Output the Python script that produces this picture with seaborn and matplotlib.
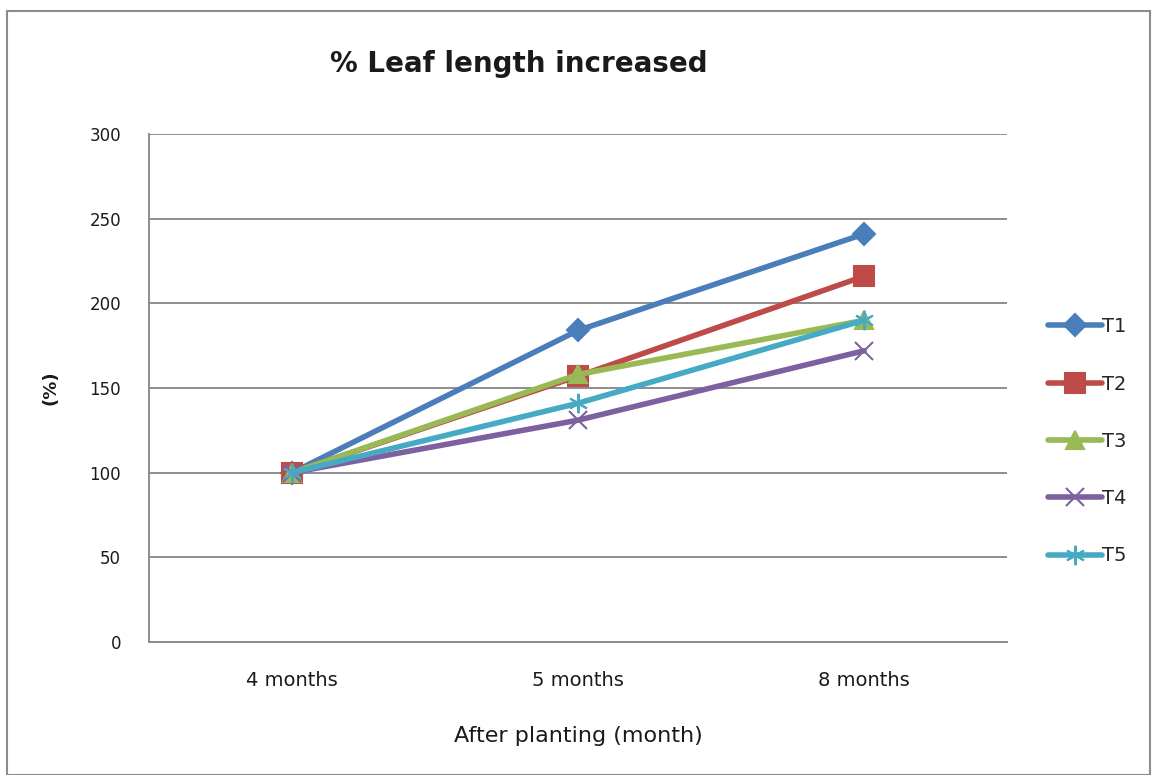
import matplotlib
matplotlib.use("Agg")
import matplotlib.pyplot as plt
import seaborn as sns
import pandas as pd
from matplotlib.patches import Rectangle

# Data
months = ["4 months", "5 months", "8 months"]
t1 = [100, 184, 241]
t2 = [100, 157, 216]
t3 = [100, 158, 190]
t4 = [100, 131, 172]
t5 = [100, 141, 190]
treatments = ["T1", "T2", "T3", "T4", "T5"]
y_ticks = [0, 50, 100, 150, 200, 250, 300]

series = dict(zip(treatments, [t1, t2, t3, t4, t5]))
rows = []
for name, vals in series.items():
    for m, v in zip(months, vals):
        rows.append({"month": m, "value": v, "treatment": name})
df = pd.DataFrame(rows)

sns.set_theme(style="white")
plt.rcParams["font.family"] = ["DejaVu Sans"]

colors = {"T1": "#4A7EBB", "T2": "#BE4B48", "T3": "#98B954",
          "T4": "#7D60A0", "T5": "#46AAC5"}
markers = {"T1": "D", "T2": "s", "T3": "^", "T4": "x", "T5": (6, 2, 0)}
msizes = {"T1": 11, "T2": 14, "T3": 13, "T4": 13, "T5": 14}

fig = plt.figure(figsize=(11.55, 7.75), dpi=100)
ax = fig.add_axes([0.129, 0.1716, 0.743, 0.6555])

for name in treatments:
    sub = df[df["treatment"] == name]
    sns.lineplot(data=sub, x="month", y="value", ax=ax, color=colors[name],
                 linewidth=4.0, marker=markers[name], markersize=msizes[name],
                 markeredgecolor=colors[name], markeredgewidth=1.5,
                 label=name, sort=False)

ax.set_xlim(-0.5, 2.5)
ax.set_ylim(0, 300)
ax.set_yticks(y_ticks)
ax.grid(axis="y", color="#8c8c8c", linewidth=1.4)
ax.set_axisbelow(True)
for s in ["top", "right"]:
    ax.spines[s].set_visible(False)
for s in ["left", "bottom"]:
    ax.spines[s].set_color("#8c8c8c")
    ax.spines[s].set_linewidth(1.4)
ax.tick_params(axis="both", length=0, colors="#1a1a1a")
ax.tick_params(axis="x", labelsize=14, pad=21)
ax.tick_params(axis="y", labelsize=12, pad=20)

ax.set_xlabel("After planting (month)", fontsize=16, color="#1a1a1a")
ax.xaxis.set_label_coords(0.5, (642 - 726) / 508)
ax.set_ylabel("(%)", fontsize=13, fontweight="bold", color="#1a1a1a")
ax.yaxis.set_label_coords((60 - 149) / 858, (642 - 388) / 508)
fig.text(0.449, 0.918, "% Leaf length increased", fontsize=20, fontweight="bold",
         ha="center", va="center", color="#1a1a1a")

leg = ax.legend(loc="center left", bbox_to_anchor=(1.027, 0.395), frameon=False,
                fontsize=14, handlelength=2.8, handletextpad=0.0, labelspacing=1.97)

fig.patches.append(Rectangle((7 / 1155, 0), 1143 / 1155, 1 - 11 / 775,
                             transform=fig.transFigure, fill=False,
                             edgecolor="#8c8c8c", linewidth=1.5))

fig.savefig("out.png", dpi=100)
